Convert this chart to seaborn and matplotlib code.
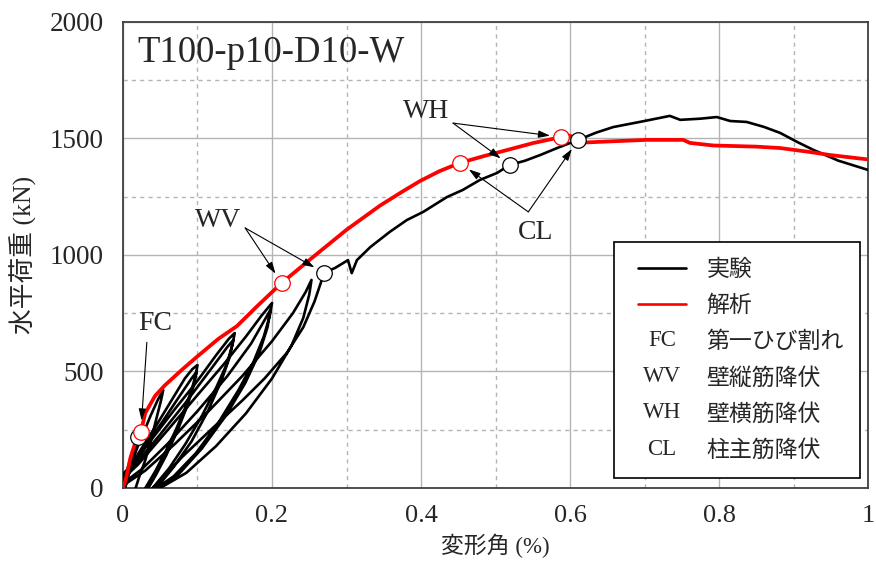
import matplotlib
matplotlib.use("Agg")
import matplotlib.pyplot as plt
import seaborn as sns
import pandas as pd
from matplotlib.legend_handler import HandlerBase
from matplotlib.lines import Line2D
from matplotlib.text import Text
from matplotlib.ticker import MultipleLocator

# ---- experiment: horizontal load vs drift angle (cyclic, positive side) ----
exp_drift = [
    # initial loading up to first cracking
    0.000, 0.003, 0.008, 0.014, 0.020,
    0.018, 0.013, 0.007, 0.003, -0.030,
    # 0.05 % cycle
    0.000, 0.006, 0.015, 0.026, 0.037, 0.047, 0.054,
    0.051, 0.045, 0.038, 0.030, 0.022, 0.017, -0.040,
    # 0.1 % cycles
    0.000, 0.010, 0.025, 0.045, 0.065, 0.083, 0.093, 0.100,
    0.098, 0.092, 0.083, 0.071, 0.057, 0.043, 0.030, -0.050,
    0.000, 0.012, 0.030, 0.052, 0.075, 0.092, 0.099,
    0.095, 0.086, 0.073, 0.058, 0.044, 0.034, -0.060,
    # 0.15 % cycles
    0.000, 0.015, 0.040, 0.070, 0.100, 0.125, 0.142, 0.150,
    0.147, 0.139, 0.125, 0.106, 0.084, 0.062, 0.040, -0.080,
    0.000, 0.020, 0.050, 0.085, 0.118, 0.140, 0.148,
    0.143, 0.132, 0.114, 0.092, 0.068, 0.045, -0.100,
    # 0.2 % cycles
    0.000, 0.020, 0.055, 0.095, 0.135, 0.165, 0.186, 0.200,
    0.197, 0.189, 0.175, 0.155, 0.128, 0.098, 0.068, 0.045, -0.120,
    0.000, 0.025, 0.060, 0.100, 0.140, 0.172, 0.198,
    0.194, 0.183, 0.164, 0.138, 0.106, 0.075, 0.048, -0.150,
    # 0.25 % cycle
    0.000, 0.030, 0.070, 0.115, 0.160, 0.200, 0.228, 0.245, 0.253,
    0.250, 0.242, 0.226, 0.200, 0.165, 0.125, 0.085, 0.050, -0.200,
    # final loading
    0.040, 0.080, 0.123, 0.160, 0.190, 0.220, 0.242, 0.257, 0.270,
    0.285, 0.302, 0.307, 0.314, 0.332, 0.358, 0.381, 0.403, 0.435,
    0.456, 0.479, 0.502, 0.519, 0.540, 0.560, 0.585, 0.611, 0.635,
    0.658, 0.700, 0.734, 0.748, 0.775, 0.797, 0.815, 0.837, 0.860,
    0.882, 0.905, 0.926, 0.960, 1.000,
]
exp_load = [
    0, 45, 105, 165, 219,
    180, 115, 50, 0, -250,
    30, 75, 140, 225, 310, 380, 420,
    375, 300, 210, 120, 50, 0, -400,
    45, 95, 170, 270, 375, 470, 510, 528,
    490, 420, 340, 250, 155, 70, 0, -500,
    55, 100, 180, 280, 390, 470, 500,
    440, 350, 245, 140, 55, 0, -600,
    60, 110, 215, 340, 460, 570, 640, 665,
    615, 530, 430, 310, 190, 85, 0, -700,
    50, 115, 230, 370, 510, 605, 635,
    560, 460, 330, 200, 90, 0, -800,
    40, 100, 230, 380, 530, 650, 740, 794,
    740, 650, 540, 420, 280, 150, 50, 0, -900,
    20, 80, 190, 330, 480, 620, 765,
    690, 580, 450, 310, 170, 60, 0, -1000,
    10, 75, 190, 330, 480, 630, 750, 840, 893,
    830, 730, 610, 470, 320, 180, 65, 0, -1100,
    0, 135, 265, 375, 470, 580, 690, 800, 923,
    945, 978, 922, 978, 1034, 1099, 1150, 1185, 1249,
    1279, 1322, 1352, 1386, 1405, 1429, 1462, 1494, 1525,
    1549, 1575, 1597, 1580, 1585, 1592, 1575, 1571, 1550,
    1524, 1485, 1452, 1405, 1365,
]

# ---- analysis: monotonic envelope ----
ana_drift = [0.000, 0.004, 0.010, 0.018, 0.024, 0.030, 0.043, 0.056, 0.080,
             0.100, 0.128, 0.153, 0.180, 0.213, 0.255, 0.300, 0.345, 0.375,
             0.399, 0.425, 0.452, 0.485, 0.515, 0.550, 0.588, 0.600, 0.615,
             0.650, 0.703, 0.752, 0.761, 0.792, 0.850, 0.882, 0.922, 0.949,
             1.000]
ana_load = [0, 40, 130, 210, 242, 322, 395, 440, 510,
            565, 640, 695, 780, 880, 991, 1108, 1212, 1272,
            1318, 1360, 1395, 1425, 1450, 1480, 1506, 1512, 1482,
            1487, 1494, 1494, 1481, 1470, 1465, 1459, 1442, 1429,
            1410]

# ---- characteristic events ----
event_codes = ["FC", "WV", "WH", "CL"]
event_names = ["第一ひび割れ", "壁縦筋降伏", "壁横筋降伏", "柱主筋降伏"]
exp_event_drift = [0.020, 0.270, 0.519, 0.611]
exp_event_load = [219, 923, 1386, 1494]
ana_event_drift = [0.024, 0.213, 0.588, 0.452]
ana_event_load = [242, 880, 1506, 1395]

# label anchor (text centre) and arrow tail for each event, in data units
label_pos = {"FC": (0.043, 708), "WV": (0.128, 1148), "WH": (0.407, 1614), "CL": (0.554, 1096)}
arrow_tail = {"FC": (0.032, 625), "WV": (0.164, 1116), "WH": (0.443, 1566), "CL": (0.544, 1185)}

sns.set_style("white")
plt.rcParams["font.family"] = ["Liberation Serif", "Noto Sans CJK JP", "DejaVu Sans"]

SERIF = ["Liberation Serif", "Noto Sans CJK JP"]
CJK = ["Noto Sans CJK JP", "DejaVu Sans"]

fig = plt.figure(figsize=(8.76, 5.65), dpi=100)
ax = fig.add_axes([0.1404, 0.1363, 0.8505, 0.8248])

exp_df = pd.DataFrame({"drift": exp_drift, "load": exp_load})
ana_df = pd.DataFrame({"drift": ana_drift, "load": ana_load})

sns.lineplot(data=exp_df, x="drift", y="load", sort=False, estimator=None,
             color="black", lw=1.9, ax=ax, zorder=3)
sns.lineplot(data=ana_df, x="drift", y="load", sort=False, estimator=None,
             color="#ff0000", lw=2.7, ax=ax, zorder=4)

sns.scatterplot(x=exp_event_drift, y=exp_event_load, ax=ax, s=125,
                facecolor="white", edgecolor="black", linewidth=0.9, zorder=6)
sns.scatterplot(x=ana_event_drift, y=ana_event_load, ax=ax, s=125,
                facecolor="white", edgecolor="#ff0000", linewidth=0.9, zorder=6)

arrow_kw = dict(arrowstyle="-|>,head_length=0.7,head_width=0.22", color="black",
                lw=0.8, mutation_scale=10, shrinkA=0, shrinkB=8)
for code, ex, ey, axx, ayy in zip(event_codes, exp_event_drift, exp_event_load,
                                   ana_event_drift, ana_event_load):
    lx, ly = label_pos[code]
    ax.text(lx, ly, code, ha="center", va="center", fontsize=20,
            family=SERIF, zorder=7)
    tail = arrow_tail[code]
    targets = [(axx, ayy)] if code == "FC" else [(axx, ayy), (ex, ey)]
    for tx, ty in targets:
        ax.annotate("", xy=(tx, ty), xytext=tail, arrowprops=arrow_kw, zorder=7)

ax.text(0.019, 0.914, "T100-p10-D10-W", transform=ax.transAxes, fontsize=26.5,
        family=SERIF, ha="left", va="baseline", zorder=7)

ax.set_xlim(0, 1)
ax.set_ylim(0, 2000)
ax.set_xticks([0, 0.2, 0.4, 0.6, 0.8, 1.0])
ax.set_xticklabels(["0", "0.2", "0.4", "0.6", "0.8", "1"], family=SERIF, fontsize=19)
ax.set_yticks([0, 500, 1000, 1500, 2000])
ax.set_yticklabels(["0", "500", "1000", "1500", "2000"], family=SERIF, fontsize=19.5)
ax.xaxis.set_minor_locator(MultipleLocator(0.1))
ax.yaxis.set_minor_locator(MultipleLocator(250))
ax.tick_params(axis="both", which="both", length=0)
ax.tick_params(axis="x", pad=12)
ax.tick_params(axis="y", pad=14)

ax.grid(True, which="major", color="#b4b4b4", lw=1.0, ls="-")
ax.grid(True, which="minor", color="#b4b4b4", lw=1.0, ls=(0, (3, 3)))
ax.set_axisbelow(True)
for sp in ax.spines.values():
    sp.set_color("#404040")
    sp.set_linewidth(1.3)

ax.set_xlabel("変形角 (%)", family=SERIF, fontsize=16.5, labelpad=5)
ax.set_ylabel("水平荷重 (kN)", family=SERIF, fontsize=18.5, labelpad=9)


class CodeHandle:
    def __init__(self, code):
        self.code = code


class CodeHandler(HandlerBase):
    def create_artists(self, legend, orig_handle, xdescent, ydescent,
                       width, height, fontsize, trans):
        t = Text(x=width / 2 - xdescent, y=height / 2 - ydescent,
                 text=orig_handle.code, ha="center", va="center",
                 fontsize=fontsize, family=SERIF, transform=trans)
        return [t]


class ShortLineHandler(HandlerBase):
    def create_artists(self, legend, orig_handle, xdescent, ydescent,
                       width, height, fontsize, trans):
        cx = width / 2 - xdescent
        cy = height / 2 - ydescent
        half = 0.37 * width
        ln = Line2D([cx - half, cx + half], [cy, cy], color=orig_handle.get_color(),
                    lw=orig_handle.get_linewidth(), transform=trans)
        return [ln]


handles = [Line2D([], [], color="black", lw=1.9),
           Line2D([], [], color="#ff0000", lw=1.9)] + [CodeHandle(c) for c in event_codes]
labels = ["実験", "解析"] + event_names
leg = ax.legend(handles, labels,
                handler_map={CodeHandle: CodeHandler(), Line2D: ShortLineHandler()},
                loc="lower right", bbox_to_anchor=(0.989, 0.021),
                prop={"family": CJK, "size": 16.5}, frameon=True, fancybox=False,
                edgecolor="black", framealpha=1, handlelength=2.8,
                handletextpad=0.55, labelspacing=0.58, borderpad=0.7,
                borderaxespad=0)
leg.get_frame().set_linewidth(1.2)
leg.set_zorder(10)

fig.savefig("out.png", dpi=100)
